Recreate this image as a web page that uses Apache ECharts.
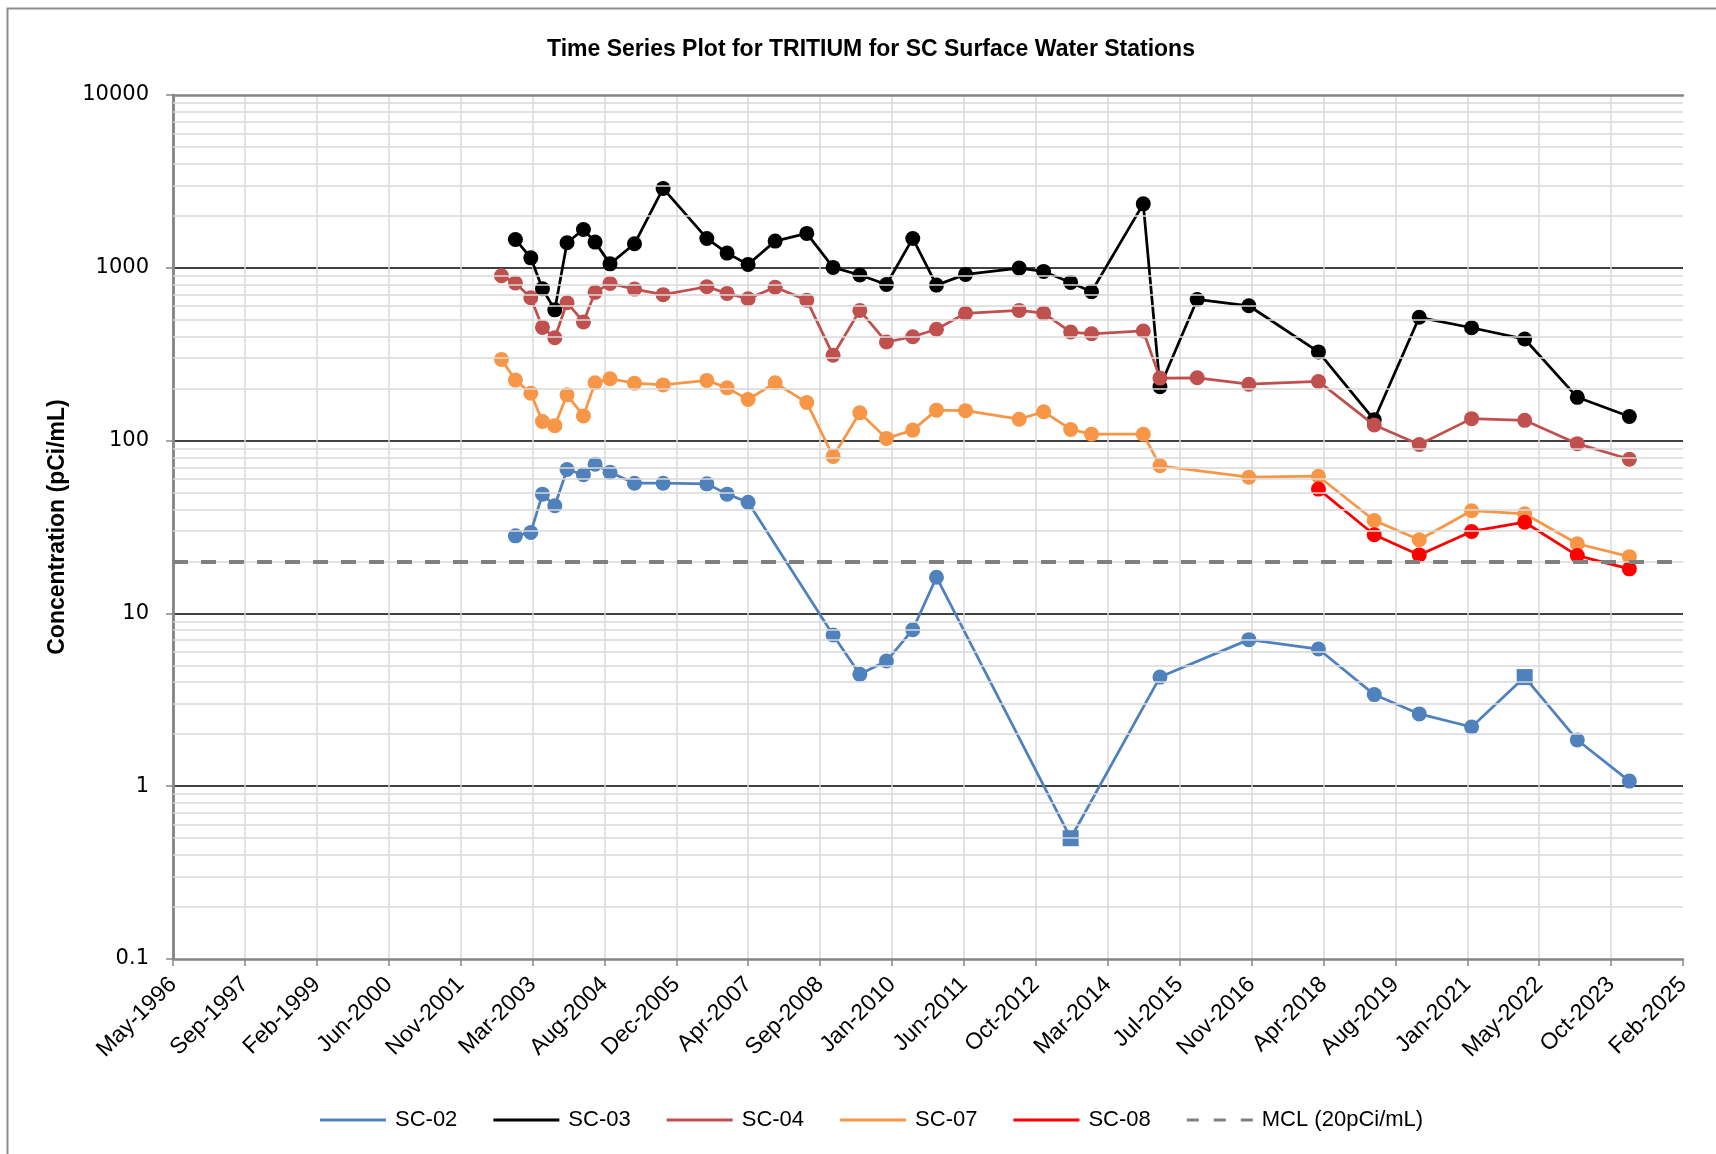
<!DOCTYPE html>
<html>
<head>
<meta charset="utf-8">
<script src="https://cdn.jsdelivr.net/npm/echarts@6/dist/echarts.min.js"></script>
<style>
html,body{margin:0;padding:0;background:#fff;}
#chart{width:1716px;height:1154px;}
</style>
</head>
<body>
<div id="chart"></div>
<script>
// ---- Data ----
const chartTitle = 'Time Series Plot for TRITIUM for SC Surface Water Stations';
const yAxisTitle = 'Concentration (pCi/mL)';
const axisStartDate = '1996-05-15';
const tickStepDays = 500;
const tickLabels = ['May-1996','Sep-1997','Feb-1999','Jun-2000','Nov-2001','Mar-2003','Aug-2004','Dec-2005','Apr-2007','Sep-2008','Jan-2010','Jun-2011','Oct-2012','Mar-2014','Jul-2015','Nov-2016','Apr-2018','Aug-2019','Jan-2021','May-2022','Oct-2023','Feb-2025'];
const yTickLabels = ['0.1','1','10','100','1000','10000'];
const minorGridValues = [0.2,0.3,0.4,0.5,0.6,0.7,0.8,0.9,2,3,4,5,6,7,8,9,20,30,40,50,60,70,80,90,200,300,400,500,600,700,800,900,2000,3000,4000,5000,6000,7000,8000,9000];

const sampleDates = ['2002-08-16','2002-11-21','2003-03-08','2003-05-28','2003-08-22','2003-11-15','2004-03-08','2004-05-28','2004-09-09','2005-02-26','2005-09-13','2006-07-14','2006-12-02','2007-04-27','2007-11-01','2008-06-08','2008-12-08','2009-06-12','2009-12-14','2010-06-15','2010-11-27','2011-06-17','2012-06-24','2012-12-11','2013-06-17','2013-11-09','2014-11-04','2015-02-28','2015-11-14','2016-11-07','2018-03-06','2019-03-29','2020-02-05','2021-02-03','2022-02-07','2023-02-08','2024-02-05'];

const sc02 = [null,28.1,29.4,49,42,68,63.4,73,65.6,56.7,56.7,56.2,49,44,null,null,7.5,4.44,5.3,8.05,16.2,null,null,null,0.5,null,null,4.28,null,7.05,6.22,3.39,2.62,2.2,4.28,1.85,1.07];
const sc02SquareDates = ['2013-06-17','2022-02-07'];
const sc03 = [null,1459,1142,757,571,1396,1667,1408,1054,1377,2879,1479,1216,1046,1427,1581,1005,908,801,1479,794,916,996,953,823,727,2344,205,656,603,326,132,517,450,387,178,138];
const sc04 = [899,816,671,452,394,628,486,721,812,753,699,777,711,662,771,650,312,567,372,399,441,545,567,547,425,415,431,230,231,212,220,123,95,134,131,96,78];
const sc07 = [295,224,188,129,122,184,139,216,228,215,210,223,202,173,216,166,81,145,103,115,150,149,133,147,116,109,109,71.5,null,61.4,62.2,34.5,26.7,39.3,37.7,25.3,21.3];
const sc08 = [null,null,null,null,null,null,null,null,null,null,null,null,null,null,null,null,null,null,null,null,null,null,null,null,null,null,null,null,null,null,52.4,28.5,21.8,29.8,33.7,21.6,18.1];
const mclValue = 20;

const seriesNames = ['SC-02','SC-03','SC-04','SC-07','SC-08'];
const seriesColors = ['#4F81BD','#000000','#C0504D','#F79646','#FF0000'];
const mclName = 'MCL (20pCi/mL)';

// ---- Helpers ----
const DAY = 86400000;
function dayOffset(d){ return (Date.parse(d) - Date.parse(axisStartDate)) / DAY; }
const xMax = tickStepDays * (tickLabels.length - 1);

function buildData(values, squareDates){
  const out = [];
  values.forEach((v, i) => {
    if (v === null) return;
    const item = { value: [dayOffset(sampleDates[i]), v] };
    if (squareDates && squareDates.indexOf(sampleDates[i]) >= 0) {
      item.symbol = 'rect';
      item.symbolSize = 16;
    }
    out.push(item);
  });
  return out;
}

const allValues = [sc02, sc03, sc04, sc07, sc08];
const lineSeries = allValues.map((vals, k) => ({
  name: seriesNames[k],
  type: 'line',
  data: buildData(vals, k === 0 ? sc02SquareDates : null),
  symbol: 'circle',
  symbolSize: 15,
  color: seriesColors[k],
  lineStyle: { color: seriesColors[k], width: 2.75 },
  itemStyle: { color: seriesColors[k], borderWidth: 0 },
  z: 2 + k * 0.01,
  animation: false
}));

const minorGridSeries = {
  name: '_minor',
  type: 'line',
  data: [],
  z: -1,
  silent: true,
  animation: false,
  markLine: {
    silent: true,
    symbol: ['none','none'],
    label: { show: false },
    animation: false,
    lineStyle: { color: '#D9D9D9', width: 1.5, type: 'solid' },
    emphasis: { disabled: true },
    data: minorGridValues.map(v => ({ yAxis: v }))
  }
};

const mclSeries = {
  name: mclName,
  type: 'line',
  data: [],
  color: '#808080',
  itemStyle: { color: '#808080' },
  lineStyle: { color: '#808080', width: 4, type: [15, 13] },
  z: 3,
  animation: false,
  markLine: {
    silent: true,
    symbol: ['none','none'],
    label: { show: false },
    animation: false,
    lineStyle: { color: '#808080', width: 4, type: [15, 13] },
    emphasis: { disabled: true },
    data: [{ yAxis: mclValue }]
  }
};

const chart = echarts.init(document.getElementById('chart'), null, { renderer: 'canvas' });
const axisGray = '#868686';
const legendIconLine = 'rect';
const legendIconDash = 'path://M0,0H12V3H0Z M27,0H39V3H27Z M54,0H66V3H54Z';

chart.setOption({
  animation: false,
  backgroundColor: '#ffffff',
  title: {
    text: chartTitle,
    left: 542,
    top: 33,
    textStyle: { fontFamily: 'Liberation Sans', fontWeight: 'bold', fontSize: 23, color: '#000' }
  },
  graphic: [{
    type: 'rect', left: 5, top: 6, silent: true,
    shape: { width: 1720, height: 1160 },
    style: { fill: 'none', stroke: '#8E8E8E', lineWidth: 2 }
  }],
  legend: {
    left: 315,
    top: 1104,
    itemWidth: 66,
    itemHeight: 3,
    itemGap: 36,
    textStyle: { fontFamily: 'Liberation Sans', fontSize: 22, color: '#000', padding: [0, 0, 0, 4] },
    data: seriesNames.map(n => ({ name: n, icon: legendIconLine })).concat([{ name: mclName, icon: legendIconDash }])
  },
  grid: { left: 173, right: 33, top: 95, bottom: 195, containLabel: false },
  xAxis: [{
    type: 'value',
    position: 'bottom',
    min: 0, max: xMax, interval: tickStepDays,
    axisLine: { show: true, lineStyle: { color: axisGray, width: 2.5 } },
    axisTick: { show: true, length: 7, lineStyle: { color: axisGray, width: 1.5 } },
    axisLabel: {
      rotate: 45, margin: 22,
      fontFamily: 'Liberation Sans', fontSize: 23, color: '#000',
      formatter: v => tickLabels[Math.round(v / tickStepDays)] || ''
    },
    splitLine: { show: true, showMinLine: false, showMaxLine: false, lineStyle: { color: '#D9D9D9', width: 1.5 } }
  }, {
    type: 'value',
    position: 'top',
    min: 0, max: xMax, interval: tickStepDays,
    axisLine: { show: true, lineStyle: { color: axisGray, width: 2.5 } },
    axisTick: { show: false }, axisLabel: { show: false }, splitLine: { show: false }
  }],
  yAxis: [{
    type: 'log', logBase: 10, min: 0.1, max: 10000,
    position: 'left',
    name: yAxisTitle,
    nameLocation: 'middle',
    nameRotate: 90,
    nameGap: 104,
    nameTextStyle: { fontFamily: 'Liberation Sans', fontWeight: 'bold', fontSize: 23, color: '#000' },
    axisLine: { show: true, lineStyle: { color: axisGray, width: 2.5 } },
    axisTick: { show: true, length: 7, lineStyle: { color: axisGray, width: 1.5 } },
    axisLabel: {
      margin: 24, fontFamily: 'DejaVu Sans', fontSize: 21, color: '#000',
      formatter: v => yTickLabels[Math.round(Math.log10(v)) + 1] || ''
    },
    splitLine: { show: true, showMinLine: false, showMaxLine: false, lineStyle: { color: '#000000', width: 1.5 } }
  }, {
    type: 'log', logBase: 10, min: 0.1, max: 10000,
    position: 'right',
    axisLine: { show: true, lineStyle: { color: axisGray, width: 2.5 } },
    axisTick: { show: false }, axisLabel: { show: false }, splitLine: { show: false }
  }],
  series: [minorGridSeries].concat(lineSeries).concat([mclSeries])
});
</script>
</body>
</html>
